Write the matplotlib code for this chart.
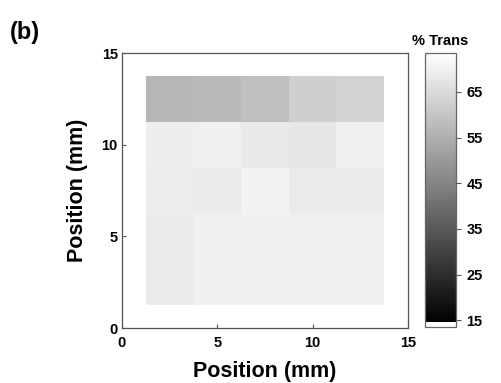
import numpy as np
import matplotlib
matplotlib.use('Agg')
import matplotlib.pyplot as plt
from matplotlib.colors import LinearSegmentedColormap, Normalize

plt.rcParams['font.family'] = ['Liberation Sans', 'DejaVu Sans']
plt.rcParams['font.weight'] = 'bold'

# cell centres (mm) and % transmission, rows from bottom to top
x_pos = [2.5, 5.0, 7.5, 10.0, 12.5]
y_pos = [2.5, 5.0, 7.5, 10.0, 12.5]
row_1 = [68.9, 70.0, 70.0, 70.0, 70.0]
row_2 = [68.9, 70.0, 70.0, 70.0, 70.0]
row_3 = [69.3, 68.6, 70.5, 68.6, 68.6]
row_4 = [69.6, 70.0, 68.4, 67.7, 70.0]
row_5 = [56.6, 57.5, 58.9, 62.4, 63.1]
cbar_ticks = [15, 25, 35, 45, 55, 65]

trans = np.array([row_1, row_2, row_3, row_4, row_5])

# grayscale with a thin white band at the very bottom
cmap = LinearSegmentedColormap.from_list(
    'trans', [(0.0, 'white'), (0.016, 'white'), (0.0161, 'black'), (1.0, 'white')], N=512)
norm = Normalize(vmin=13.5, vmax=73.5)

fig = plt.figure(figsize=(5.01, 3.83), dpi=100)
ax = fig.add_axes([0.2435, 0.1436, 0.5705, 0.718])
cax = fig.add_axes([0.848, 0.146, 0.062, 0.7156])

mesh = ax.pcolormesh(x_pos, y_pos, trans, cmap=cmap, norm=norm, shading='nearest')
ax.set_xlim(0, 15)
ax.set_ylim(0, 15)
ax.set_xticks([0, 5, 10, 15])
ax.set_yticks([0, 5, 10, 15])
ax.tick_params(direction='in', length=3, width=0.8, color='#555555', labelsize=10.5, pad=3)
ax.tick_params(axis='x', pad=6)
for s in ax.spines.values():
    s.set_color('#555555')
    s.set_linewidth(0.9)
ax.set_xlabel('Position (mm)', fontsize=15.5, fontweight='bold', labelpad=8)
ax.set_ylabel('Position (mm)', fontsize=15.5, fontweight='bold', labelpad=10)

cb = fig.colorbar(mesh, cax=cax, ticks=cbar_ticks)
cb.outline.set_edgecolor('#666666')
cb.outline.set_linewidth(0.9)
cax.tick_params(direction='out', length=3.5, width=0.8, color='#555555', labelsize=10.5, pad=4)
cax.set_title('% Trans', fontsize=10.5, fontweight='bold', pad=6)

fig.text(0.02, 0.915, '(b)', fontsize=17, fontweight='bold', va='center')

fig.savefig('out.png', dpi=100)
